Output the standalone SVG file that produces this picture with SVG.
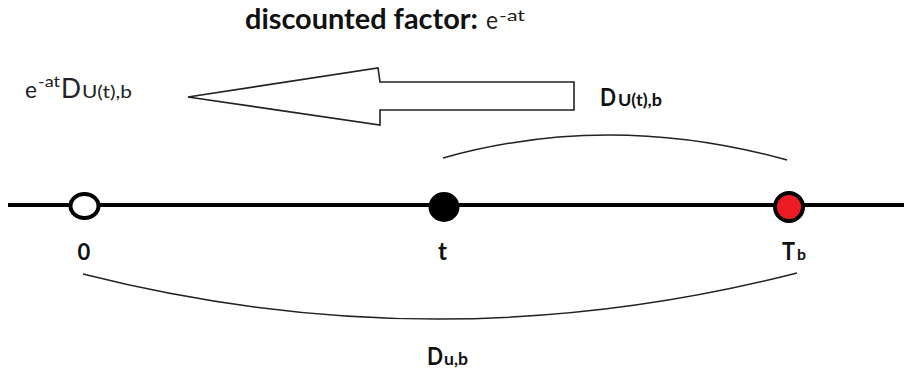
<svg xmlns="http://www.w3.org/2000/svg" width="904" height="372" viewBox="0 0 904 372">
<style>
.b{font-family:Lato,"Liberation Sans",sans-serif;font-weight:bold;fill:#111}
.r{font-family:Lato,"Liberation Sans",sans-serif;font-weight:normal;fill:#222}
.thin{fill:none;stroke:#222;stroke-width:1.5}
</style>
<rect width="904" height="372" fill="#ffffff"/>
<g id="title">
<text class="b" x="245" y="29" font-size="28" textLength="233" lengthAdjust="spacingAndGlyphs">discounted factor:</text>
<text class="r" x="486" y="29" font-size="25" textLength="12" lengthAdjust="spacingAndGlyphs">e</text>
<text class="r" x="499" y="21" font-size="16" textLength="26" lengthAdjust="spacingAndGlyphs">-at</text>
</g>
<g id="discounted-label">
<text class="r" x="25" y="98" font-size="24" textLength="12" lengthAdjust="spacingAndGlyphs">e</text>
<text class="r" x="38" y="87" font-size="15" textLength="22" lengthAdjust="spacingAndGlyphs">-at</text>
<text class="r" x="61" y="98" font-size="26" textLength="20" lengthAdjust="spacingAndGlyphs">D</text>
<text class="r" x="82" y="98" font-size="18" textLength="50" lengthAdjust="spacingAndGlyphs">U(t),b</text>
</g>
<g id="arrow">
<polygon points="188,97 378,68 380,82 574,82 574,110 380,110 380,125" fill="#ffffff" stroke="#222" stroke-width="1.6" stroke-linejoin="miter"/>
</g>
<g id="dut-label">
<text class="b" x="600" y="106" font-size="25" textLength="16" lengthAdjust="spacingAndGlyphs">D</text>
<text class="b" x="618" y="106" font-size="17" textLength="44" lengthAdjust="spacingAndGlyphs">U(t),b</text>
</g>
<g id="connectors">
<line x1="8" y1="205" x2="904" y2="205" stroke="#000" stroke-width="4"/>
<path class="thin" d="M443,158 Q610,111 787,160"/>
<path class="thin" d="M83,274 Q440,364.5 797,273"/>
</g>
<g id="node-0">
<ellipse cx="84.5" cy="206" rx="14" ry="12" fill="#ffffff" stroke="#000" stroke-width="4"/>
<text class="b" x="84" y="260" font-size="22" text-anchor="middle">0</text>
</g>
<g id="node-t">
<ellipse cx="444" cy="207" rx="15.5" ry="15" fill="#000"/>
<text class="b" x="442.5" y="260" font-size="24" text-anchor="middle">t</text>
</g>
<g id="node-Tb">
<circle cx="789" cy="207" r="14" fill="#ed1c24" stroke="#000" stroke-width="4"/>
<text class="b" x="782" y="260" font-size="25" textLength="13" lengthAdjust="spacingAndGlyphs">T</text>
<text class="b" x="797" y="260" font-size="15" textLength="9" lengthAdjust="spacingAndGlyphs">b</text>
</g>
<g id="dub-label">
<text class="b" x="427" y="365" font-size="24" textLength="16" lengthAdjust="spacingAndGlyphs">D</text>
<text class="b" x="444" y="365" font-size="17" textLength="24" lengthAdjust="spacingAndGlyphs">u,b</text>
</g>
</svg>
